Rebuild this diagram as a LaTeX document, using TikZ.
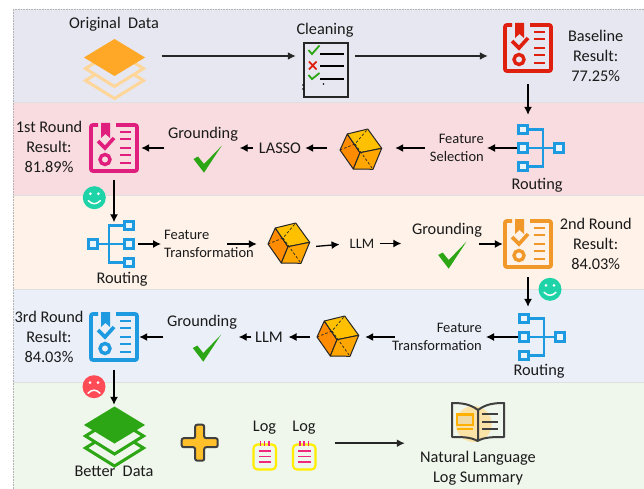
\documentclass[tikz,border=0pt]{standalone}
\usepackage{fontspec}
\setmainfont{Carlito}
\usetikzlibrary{arrows.meta}
\definecolor{bandA}{HTML}{E6E7F0}
\definecolor{bandB}{HTML}{F9DCE0}
\definecolor{bandC}{HTML}{FEF2E9}
\definecolor{bandD}{HTML}{EBEFF8}
\definecolor{bandE}{HTML}{EFF6EB}
\definecolor{txt}{HTML}{1A1A1A}
\definecolor{routeblue}{HTML}{1E9AE0}
\definecolor{routein}{HTML}{EAF4FB}
\definecolor{okgreen}{HTML}{2CA614}
\definecolor{repred}{HTML}{E0200F}
\definecolor{reppink}{HTML}{E01E7E}
\definecolor{reporange}{HTML}{F0982A}
\definecolor{stackO}{HTML}{FFA726}
\definecolor{stackL}{HTML}{FFD699}
\definecolor{happy}{HTML}{1DD3A7}
\definecolor{sad}{HTML}{FF4B55}
\definecolor{logpink}{HTML}{F0287C}
\definecolor{logyellow}{HTML}{FFEE00}
\definecolor{bookdark}{HTML}{404040}
\definecolor{bookorange}{HTML}{FFB000}
\definecolor{bookcircle}{HTML}{FBE3A8}
\definecolor{cubeL}{HTML}{FF8C00}
\definecolor{cubeT}{HTML}{FFC000}
\definecolor{cubeR}{HTML}{FFA600}
\tikzset{
  lbl/.style={inner sep=0pt,align=center,text=txt,font=\fontsize{16.3}{20}\selectfont},
  lblsmall/.style={inner sep=0pt,text=txt,font=\fontsize{14.5}{18}\selectfont},
  iconbox/.style={inner sep=0pt,minimum width=#1,minimum height=#1},
  arr/.style={-{Latex[length=8pt,width=8pt]},line width=1.3pt,draw=black},
  arrtop/.style={-{Latex[length=8pt,width=8pt]},line width=1.6pt,draw=black!85},
}
% report icon: centre x, centre y, colour
\newcommand{\reportic}[3]{%
\begin{scope}[shift={(#1,#2)}]
  \draw[line width=3.8pt,#3,rounded corners=2pt] (-16,-23) -- (-23,-23) -- (-23,23) -- (23,23) -- (23,-23) -- (2,-23);
  \fill[#3] (-13,-25) -- (-4,-25) -- (-4,-10) -- (-8.5,-14) -- (-13,-10) -- cycle;
  \draw[line width=3.6pt,#3] (-16,-7) -- (-9,0) -- (0,-10);
  \draw[line width=3.4pt,#3] (-9,11.5) circle (5);
  \foreach \yy in {-16,-9,0,7,15}{\draw[line width=2.8pt,#3] (6,\yy) -- (17,\yy);}
\end{scope}}
% routing icon: centre x, centre y, xscale
\newcommand{\routeic}[3]{%
\begin{scope}[shift={(#1,#2)},xscale=#3]
  \draw[line width=2.6pt,routeblue] (-18,-18.5) -- (2,-18.5) -- (2,18.5) -- (-18,18.5);
  \draw[line width=2.6pt,routeblue] (-18,0) -- (18,0);
  \foreach \xx/\yy in {-18/-18.5,-18/0,-18/18.5,18/0}{
    \draw[line width=3pt,routeblue,fill=routein] (\xx-4.2,\yy-4.2) rectangle (\xx+4.2,\yy+4.2);}
\end{scope}}
% cube: centre x, centre y
\newcommand{\cubeic}[2]{%
\begin{scope}[shift={(#1,#2)},line join=round]
  \filldraw[draw=black!85,line width=1pt,fill=cubeL] (-12.7,-16) -- (0,2.7) -- (-6.7,19) -- (-20,0) -- cycle;
  \filldraw[draw=black!85,line width=1pt,fill=cubeT] (-12.7,-16) -- (7.7,-21) -- (21.7,-1.7) -- (0,2.7) -- cycle;
  \filldraw[draw=black!85,line width=1pt,fill=cubeR] (0,2.7) -- (21.7,-1.7) -- (13,19.3) -- (-6.7,19) -- cycle;
  \draw[black!85,line width=.7pt,dash pattern=on 2.5pt off 2pt] (-20,0) -- (-5,-6) -- (7.7,-21) (-5,-6) -- (13,19.3);
\end{scope}}
% check mark: origin x, origin y
\newcommand{\checkic}[2]{%
\fill[okgreen,shift={(#1,#2)}] (-10.5,-1) -- (-6,-3.5) -- (0,4) -- (17.7,-14.3) -- (0,12.7) -- cycle;}
% data stack: centre of top sheet x, y, top colour, lower colour, band colour
\newcommand{\stackic}[5]{%
\begin{scope}[shift={(#1,#2)}]
  \draw[#4,line width=3pt,fill=#5] (-29,23) -- (0,5) -- (29,23) -- (0,41) -- cycle;
  \draw[#4,line width=3pt,fill=#5] (-29,11) -- (0,-7) -- (29,11) -- (0,29) -- cycle;
  \fill[#3] (-30.5,0) -- (0,-18.5) -- (30.5,0) -- (0,18.5) -- cycle;
\end{scope}}
% face: x, y, colour, mouth end y, mouth control y
\newcommand{\faceic}[5]{%
\begin{scope}[shift={(#1,#2)}]
  \fill[#3] (0,0) circle (11.5);
  \fill[white] (-4,-4) circle (1.5) (4,-4) circle (1.5);
  \draw[white,line width=1.5pt,line cap=round] (-6,#4) .. controls (-2,#5) and (2,#5) .. (6,#4);
\end{scope}}
% log note: left x
\newcommand{\logic}[1]{%
\begin{scope}[shift={(#1,0)}]
  \draw[logyellow,line width=2.2pt,rounded corners=4pt] (0,444.5) rectangle (22.5,469.5);
  \foreach \xx in {7,11.2,15.4}{\draw[logpink,line width=1.5pt] (\xx,441) -- (\xx,446);}
  \foreach \yy in {451,456.5,462}{\draw[logpink,line width=1.6pt] (5,\yy) -- (17.5,\yy);}
\end{scope}}
\begin{document}
\begin{tikzpicture}[x=1pt,y=-1pt]
\useasboundingbox (0,0) rectangle (644,489);
\fill[white] (0,0) rectangle (644,489);
% bands
\fill[bandA] (13,9) rectangle (644,102.5);
\fill[bandB] (13,102.5) rectangle (644,195.5);
\fill[bandC] (13,195.5) rectangle (644,289);
\fill[bandD] (13,289) rectangle (644,382);
\fill[bandE] (13,382) rectangle (644,489);
\draw[black!30,line width=.6pt,densely dotted] (13,489) -- (13,9) -- (644,9);
\foreach \yy in {102.5,195.5,289,382}{\draw[black!12,line width=.6pt] (13,\yy) -- (644,\yy);}

% icons
\stackic{114.5}{57.5}{stackO}{stackL}{bandA}
\stackic{114.5}{425}{okgreen}{okgreen}{bandE}
\reportic{528}{48}{repred}
\reportic{114}{148}{reppink}
\reportic{528}{244}{reporange}
\reportic{114}{337}{routeblue}
\routeic{541}{148}{1}
\routeic{111}{244}{-1}
\routeic{542}{337}{1}
\cubeic{360}{150}
\cubeic{288}{244}
\cubeic{337}{337}
\checkic{204}{160}
\checkic{448.7}{256}
\checkic{203.3}{349}
\faceic{94.3}{197.7}{happy}{3}{7}
\faceic{550}{289.3}{happy}{3}{7}
\faceic{94}{386.7}{sad}{6.5}{2.5}
% cleaning sheet
\draw[black!85,line width=1.6pt] (304,43) rectangle (348,97);
\draw[okgreen,line width=1.8pt] (308.5,50) -- (312,54) -- (319.5,45.5);
\draw[repred,line width=1.8pt] (309,61.5) -- (316.5,69.5) (316.5,61.5) -- (309,69.5);
\draw[okgreen,line width=1.8pt] (308.5,75) -- (312,79) -- (319.5,73);
\foreach \yy in {54,66,79}{\draw[black,line width=1.5pt] (320,\yy) -- (344,\yy);}
\fill[black] (323.5,84) circle (.8) (303,85) circle (.8) (303,89) circle (.8);
% plus
\draw[bookdark,line width=2pt,fill={rgb,255:red,255;green,192;blue,42},rounded corners=2pt]
  (195.2,424.7) -- (204.2,424.7) -- (204.2,438.2) -- (217.7,438.2) -- (217.7,447.2) -- (204.2,447.2) -- (204.2,460.7) -- (195.2,460.7) -- (195.2,447.2) -- (181.7,447.2) -- (181.7,438.2) -- (195.2,438.2) -- cycle;
% logs
\logic{253.5}
\logic{293}
% book
\fill[bookcircle] (473.7,424) circle (18);
\draw[bookdark,line width=2pt,line join=round] (478,410) .. controls (470,404) and (462,403) .. (452,403) -- (452,437) .. controls (462,437) and (471,437) .. (477.5,441) .. controls (484,437) and (494,437) .. (504,437) -- (504,403) .. controls (494,403) and (486,404) .. (478,410) -- (478,441);
\draw[bookorange,line width=2.4pt,fill=bookcircle!90!gray] (457,414.5) rectangle (473,425);
\draw[bookorange,line width=2.2pt] (457,429) -- (473,429);
\foreach \yy in {414,422,429}{\draw[bookdark,line width=2pt] (482,\yy) -- (498,\yy);}

% named anchors for the icons
\node[iconbox=60] (orig) at (114.5,69) {};
\node[inner sep=0pt,minimum width=44pt,minimum height=54pt] (clean) at (326,70) {};
\node[iconbox=50] (rep0) at (528,48) {};
\node[iconbox=50] (rep1) at (114,148) {};
\node[iconbox=50] (rep2) at (528,244) {};
\node[iconbox=50] (rep3) at (114,337) {};
\node[iconbox=48] (rt1) at (541,148) {};
\node[iconbox=48] (rt3) at (111,244) {};
\node[iconbox=48] (rt4) at (542,337) {};
\node[iconbox=42] (cu1) at (360,148) {};
\node[iconbox=42] (cu3) at (288,244) {};
\node[iconbox=42] (cu4) at (337,337) {};
\node[iconbox=60] (better) at (114.5,437) {};
\node[inner sep=0pt,minimum width=22.5pt,minimum height=29pt] (lg1) at (264.7,455.5) {};
\node[inner sep=0pt,minimum width=22.5pt,minimum height=29pt] (lg2) at (304.2,455.5) {};
\node[inner sep=0pt,minimum width=52pt,minimum height=41pt] (bk) at (478,422.5) {};

% labels
\node[lbl] (tOrig) at (114,24) {Original\ \ Data};
\node[lbl] (tClean) at (325,30) {Cleaning};
\node[lbl] (tBase) at (595.7,56) {Baseline\\Result:\\77.25\%};
\node[lbl] (t1st) at (49,147) {1st Round\\Result:\\81.89\%};
\node[lbl] (gr1) at (203,134) {Grounding};
\node[lbl] (las) at (280,148) {LASSO};
\node[lblsmall,align=right,anchor=east] (fs1) at (484,148) {Feature\\Selection};
\node[lbl] (tRt1) at (537,185) {Routing};
\node[lbl] (tRt3) at (122,279) {Routing};
\node[lblsmall,align=left,anchor=west] (ft3) at (164,244) {Feature\\Transformation};
\node[lblsmall] (ll3) at (362,243.5) {LLM};
\node[lbl] (gr3) at (447,230) {Grounding};
\node[lbl] (t2nd) at (595.7,244) {2nd Round\\Result:\\84.03\%};
\node[lbl] (t3rd) at (49,337) {3rd Round\\Result:\\84.03\%};
\node[lbl] (gr4) at (202,322.7) {Grounding};
\node[lbl] (ll4) at (269,337) {LLM};
\node[lblsmall,align=right,anchor=east] (ft4) at (482,337) {Feature\\Transformation};
\node[lbl] (tRt4) at (539,371) {Routing};
\node[lbl] (tBetter) at (114,471) {Better\ \ Data};
\node[lbl] (tLog1) at (264.5,428) {Log};
\node[lbl] (tLog2) at (304,428) {Log};
\node[lbl] (tNat) at (478,468) {Natural Language\\Log Summary};

% connectors
\draw[arrtop,shorten <=17pt,shorten >=8pt] ([yshift=13pt]orig.east) -- ([yshift=13pt]orig.east -| clean.west);
\draw[arrtop,shorten <=7pt,shorten >=15pt] ([yshift=14pt]clean.east) -- ([yshift=14pt]clean.east -| rep0.west);
\draw[arr,shorten <=11pt,shorten >=9pt] (rep0.south) -- (rep0.south |- rt1.north);
\draw[arr,shorten >=3pt] (rt1.west) -- (rt1.west -| fs1.east);
\draw[arr,shorten <=5pt,shorten >=14pt] (fs1.west) -- (fs1.west -| cu1.east);
\draw[arr,shorten <=12pt,shorten >=4pt] (cu1.west) -- (cu1.west -| las.east);
\draw[arr,shorten <=6pt,shorten >=1.5pt] (las.west) -- (las.west -| gr1.east);
\draw[arr,shorten <=3.5pt,shorten >=2pt] (gr1.west |- rep1.east) -- (rep1.east);
\draw[arr,shorten <=7pt,shorten >=-2.5pt] (rep1.south) -- (rep1.south |- rt3.north);
\draw[arr,shorten <=3pt,shorten >=3pt] (rt3.east) -- (rt3.east -| ft3.west);
\draw[arr,shorten <=18.5pt,shorten >=10pt] (ft3.center) -- (ft3.center -| cu3.west);
\draw[arr,shorten <=7pt,shorten >=10pt] ([yshift=-3pt]cu3.east) -- (ll3.west);
\draw[arr,shorten <=5pt,shorten >=10.5pt] (ll3.east) -- (ll3.east -| gr3.west);
\draw[arr,shorten <=-3.5pt] (gr3.east |- rep2.west) -- (rep2.west);
\draw[arr,shorten <=8pt,shorten >=6pt] (rep2.south) -- (rep2.south |- rt4.north);
\draw[arr,shorten >=4pt] (rt4.west) -- (rt4.west -| ft4.east);
\draw[arr,shorten <=-3pt,shorten >=7pt] (ft4.west) -- (ft4.west -| cu4.east);
\draw[arr,shorten <=6pt,shorten >=5.5pt] (cu4.west) -- (cu4.west -| ll4.east);
\draw[arr,shorten <=3.5pt,shorten >=1.5pt] (ll4.west) -- (ll4.west -| gr4.east);
\draw[arr,shorten <=3.5pt] (gr4.west |- rep3.east) -- (rep3.east);
\draw[arr,shorten <=8pt,shorten >=2pt] (rep3.south) -- (rep3.south |- better.north);
\draw[arrtop,shorten <=19pt,shorten >=47pt] (lg2.east |- bk.south) -- (bk.south west);
\end{tikzpicture}
\end{document}
